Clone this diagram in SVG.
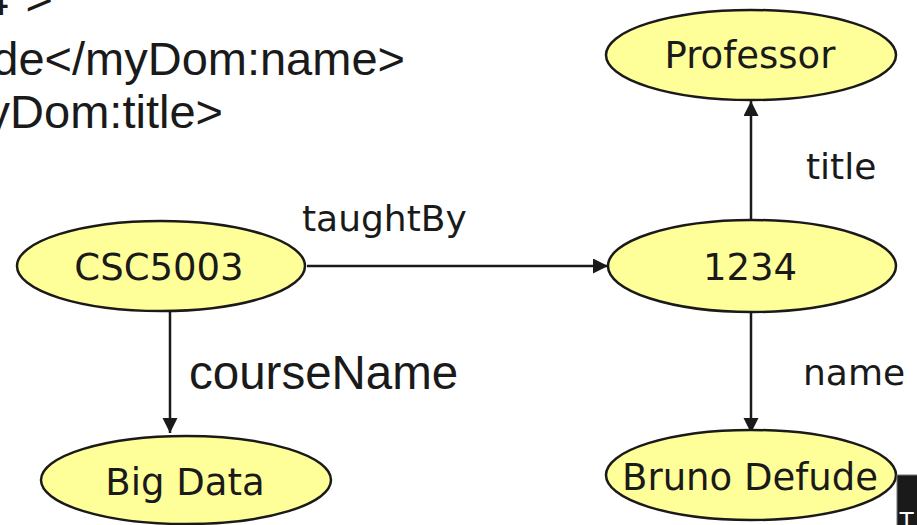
<svg xmlns="http://www.w3.org/2000/svg" width="917" height="525" viewBox="0 0 917 525">
<style>
.node ellipse{fill:#ffff99;stroke:#1a1a1a;stroke-width:2.5}
.lbl{font-family:"DejaVu Sans",Verdana,sans-serif;font-size:37px;fill:#1a1a1a;text-anchor:middle}
.elbl{font-family:"DejaVu Sans",Verdana,sans-serif;font-size:36px;fill:#1a1a1a}
.xml{font-family:"Liberation Sans",Arial,sans-serif;font-size:47px;fill:#1a1a1a;text-anchor:end}
.edge{stroke:#1a1a1a;stroke-width:2.5;fill:none;marker-end:url(#ah)}
</style>
<defs>
<marker id="ah" markerUnits="userSpaceOnUse" markerWidth="16" markerHeight="16" refX="15" refY="7.5" orient="auto">
<path d="M0,0 L15,7.5 L0,15 Z" fill="#1a1a1a"/>
</marker>
</defs>
<rect width="917" height="525" fill="#ffffff"/>
<g id="xml-text">
<text class="xml" x="53" y="15">4"&gt;</text>
<text class="xml" x="405" y="75">de&lt;/myDom:name&gt;</text>
<text class="xml" x="223" y="128">yDom:title&gt;</text>
</g>
<g id="connectors">
<line class="edge" x1="307" y1="266" x2="608" y2="266"/>
<line class="edge" x1="170" y1="311" x2="170" y2="433"/>
<line class="edge" x1="751" y1="220" x2="751" y2="101"/>
<line class="edge" x1="751" y1="312" x2="751" y2="433"/>
<text class="elbl" x="302" y="231">taughtBy</text>
<text x="189" y="389" style="font-family:'Liberation Sans',Arial,sans-serif;font-size:47.5px;fill:#1a1a1a">courseName</text>
<text class="elbl" x="806" y="179">title</text>
<text class="elbl" x="803" y="385">name</text>
</g>
<g id="n-csc5003" class="node">
<ellipse cx="161" cy="266" rx="144" ry="45"/>
<text class="lbl" x="159" y="280">CSC5003</text>
</g>
<g id="n-1234" class="node">
<ellipse cx="752" cy="266" rx="144" ry="46"/>
<text class="lbl" x="750" y="280">1234</text>
</g>
<g id="n-professor" class="node">
<ellipse cx="751" cy="55" rx="145" ry="45"/>
<text class="lbl" x="750" y="68">Professor</text>
</g>
<g id="n-bigdata" class="node">
<ellipse cx="186" cy="480" rx="145" ry="44"/>
<text class="lbl" x="185" y="495">Big Data</text>
</g>
<g id="n-bruno" class="node">
<ellipse cx="751" cy="475" rx="145" ry="45"/>
<text class="lbl" x="750" y="490">Bruno Defude</text>
</g>
<g id="logo">
<rect x="897" y="475" width="21" height="51" fill="#1a1a1a" stroke="#777" stroke-width="1"/>
<text x="899" y="530" style="font-family:'Liberation Sans',Arial,sans-serif;font-size:25px;fill:#ffffff">T</text>
</g>
</svg>
